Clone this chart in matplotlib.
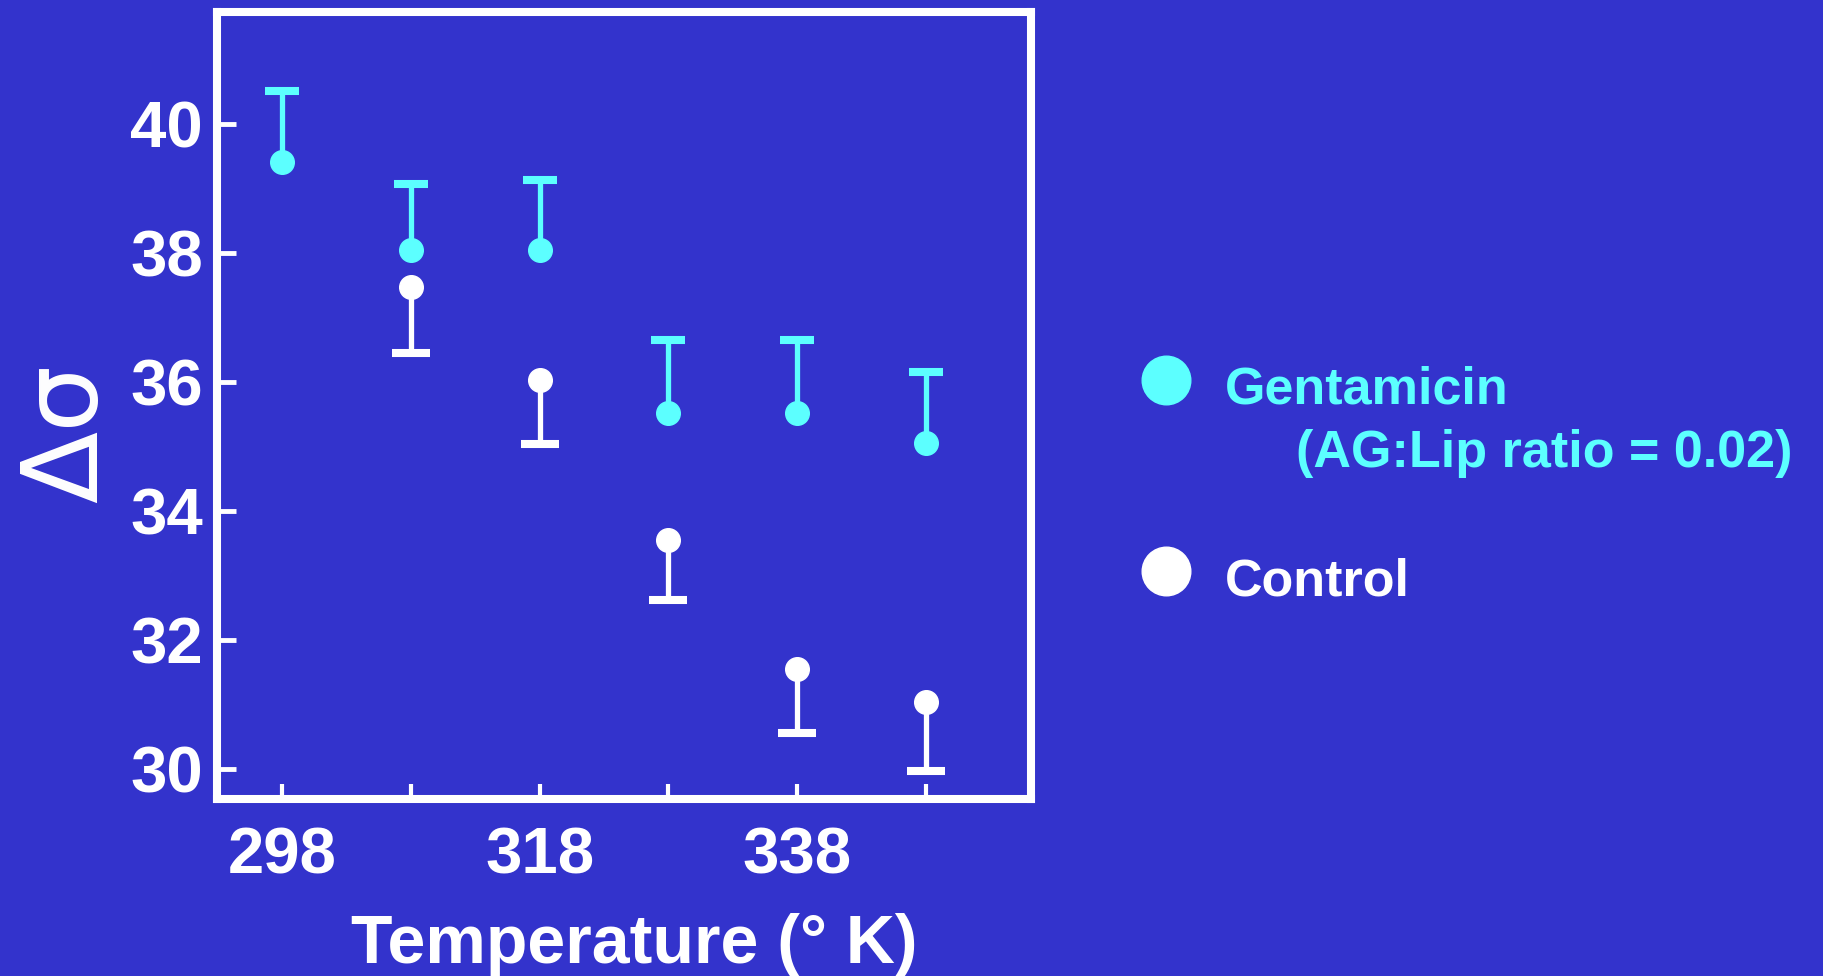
import matplotlib.pyplot as plt
from matplotlib.lines import Line2D

# colours of the slide
BG = '#3333CC'
CYAN = '#5CFFFF'

# data
temps = [298, 308, 318, 328, 338, 348]
gent = [39.42, 38.05, 38.05, 35.52, 35.52, 35.06]
gent_err = [1.09, 1.02, 1.09, 1.14, 1.14, 1.10]   # drawn upward only

ctrl_temps = [308, 318, 328, 338, 348]
ctrl = [37.48, 36.03, 33.56, 31.56, 31.05]
ctrl_err = [1.03, 0.99, 0.94, 1.00, 1.08]         # drawn downward only

xtick_labels = ['298', '', '318', '', '338', '']
yticks = [30, 32, 34, 36, 38, 40]

plt.rcParams['font.family'] = ['Liberation Sans', 'DejaVu Sans']
plt.rcParams['font.weight'] = 'bold'

W, H = 1824, 976
fig = plt.figure(figsize=(W / 100, H / 100), dpi=100, facecolor=BG)
ax = fig.add_axes([217 / W, 1 - 799 / H, 814 / W, 787 / H])
ax.set_facecolor(BG)

eb = ax.errorbar(temps, gent, yerr=[[0] * len(gent), gent_err], fmt='o', color=CYAN,
                 ms=17, elinewidth=3.8, capsize=12, capthick=5.8)
eb[1][0].set_visible(False)  # no cap at the dot itself

eb = ax.errorbar(ctrl_temps, ctrl, yerr=[ctrl_err, [0] * len(ctrl)], fmt='o', color='white',
                 ms=17, elinewidth=3.8, capsize=14, capthick=5.8)
eb[1][1].set_visible(False)

ax.set_xlim(292.95, 356.15)
ax.set_ylim(29.54, 41.74)

ax.set_xticks(temps)
ax.set_xticklabels(xtick_labels)
ax.set_yticks(yticks)
ax.tick_params(axis='x', direction='in', length=11, width=3, colors='white',
               labelsize=47, pad=20)
ax.tick_params(axis='y', direction='in', length=14, width=3.5, colors='white',
               labelsize=47, pad=10)

for sp in ax.spines.values():
    sp.set_color('white')
    sp.set_linewidth(5.8)

ax.set_xlabel('Temperature (° K)', fontsize=49, color='white', fontweight='bold',
              va='baseline')
ax.xaxis.set_label_coords(0.512, -0.208)
ax.set_ylabel('Δσ', fontsize=76, color='white', fontweight='normal',
              family='DejaVu Sans', ha='center', va='center')
ax.yaxis.set_label_coords(-0.183, 0.465)

# legend on the right
fig.add_artist(Line2D([1165.6 / W], [1 - 380 / H], marker='o', ms=35, color=CYAN,
                      transform=fig.transFigure))
fig.add_artist(Line2D([1165.6 / W], [1 - 571 / H], marker='o', ms=35, color='white',
                      transform=fig.transFigure))
fig.text(1225 / W, 1 - 404 / H, 'Gentamicin', color=CYAN, fontsize=37.5, va='baseline')
fig.text(1296 / W, 1 - 467 / H, '(AG:Lip ratio = 0.02)', color=CYAN, fontsize=37.5,
         va='baseline')
fig.text(1225 / W, 1 - 595 / H, 'Control', color='white', fontsize=37.5, va='baseline')

fig.savefig('out.png', dpi=100, facecolor=BG)
